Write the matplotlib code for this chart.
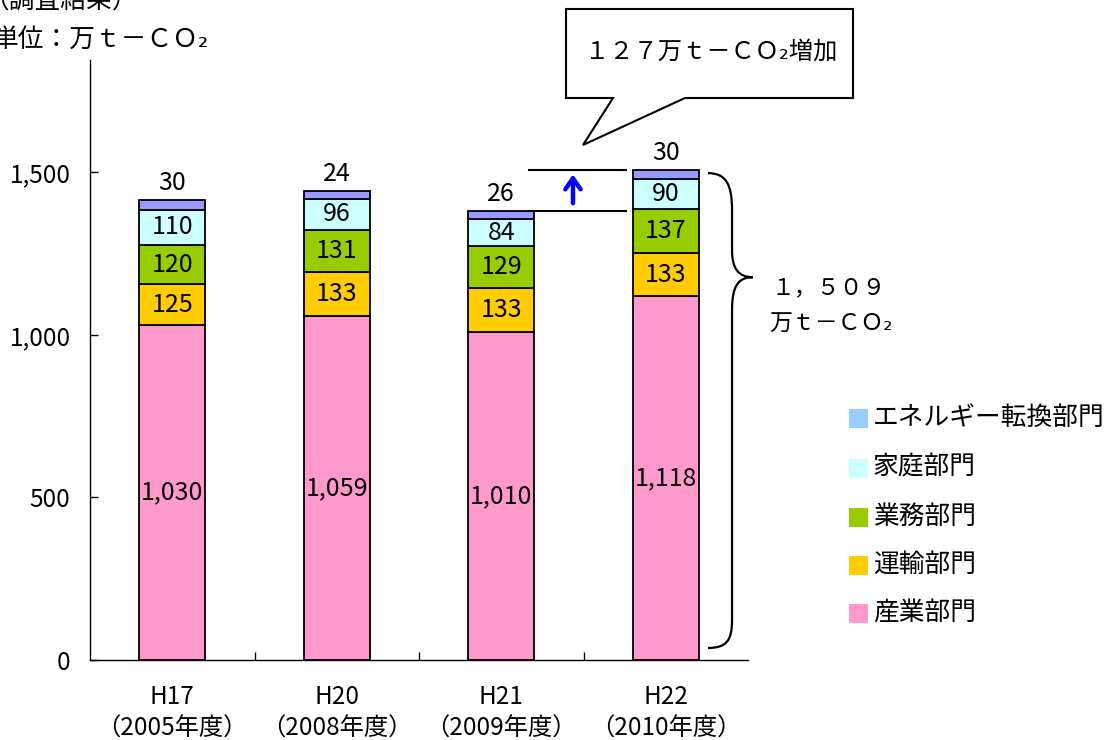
import matplotlib
matplotlib.use("Agg")
import matplotlib.pyplot as plt
from matplotlib.patches import Rectangle, Polygon, PathPatch
from matplotlib.path import Path
import numpy as np

plt.rcParams['font.family'] = ['Noto Sans CJK JP', 'DejaVu Sans']

# Survey results, unit: 10,000 t-CO2
years = ["H17", "H20", "H21", "H22"]
fiscal_years = ["（2005年度）", "（2008年度）", "（2009年度）", "（2010年度）"]
sectors = ["産業部門", "運輸部門", "業務部門", "家庭部門", "エネルギー転換部門"]
industry = [1030, 1059, 1010, 1118]
transport = [125, 133, 133, 133]
commercial = [120, 131, 129, 137]
household = [110, 96, 84, 90]
energy = [30, 24, 26, 30]
total_label = "１，５０９"
increase_label = "１２７万ｔ－ＣＯ₂増加"

bar_colors = ["#FF99CC", "#FFCC00", "#99CC00", "#CCFFFF", "#9999FF"]
legend_colors = ["#FF99CC", "#FFCC00", "#99CC00", "#CCFFFF", "#99CCFF"]

W, H = 1116, 740
fig = plt.figure(figsize=(W / 100, H / 100), dpi=100)


def px(x, y):
    return (x / W, 1 - y / H)


ax = fig.add_axes([90 / W, 80 / H, 658 / W, 600 / H])

series = [industry, transport, commercial, household, energy]
x = np.arange(len(years))
bottom = np.zeros(len(years))
for i, (vals, col) in enumerate(zip(series, bar_colors)):
    vals = np.array(vals, dtype=float)
    ax.bar(x, vals, width=0.4, bottom=bottom, color=col, edgecolor="black",
           linewidth=1.3, zorder=2)
    for xi, b, v in zip(x, bottom, vals):
        if i == len(series) - 1:
            ax.text(xi, b + v + 11, f"{int(v):,}", ha="center", va="bottom",
                    fontsize=18)
        else:
            ax.text(xi, b + v / 2, f"{int(v):,}", ha="center", va="center",
                    fontsize=18)
    bottom = bottom + vals
totals = bottom

ax.set_xlim(-0.5, 3.5)
ax.set_ylim(0, 1845)
ax.set_yticks([0, 500, 1000, 1500])
ax.set_yticklabels(["0", "500", "1,000", "1,500"], fontsize=17.5)
ax.tick_params(axis="y", direction="in", length=6, width=1, pad=14)
ax.set_xticks(x)
ax.set_xticklabels([f"{y}\n{f}" for y, f in zip(years, fiscal_years)],
                   fontsize=17.5, linespacing=1.3)
ax.tick_params(axis="x", length=0, pad=17)
ax.set_xticks(np.arange(0.5, 3.5, 1), minor=True)
ax.tick_params(axis="x", which="minor", direction="in", length=6, width=1)
for s in ["top", "right"]:
    ax.spines[s].set_visible(False)
for s in ["left", "bottom"]:
    ax.spines[s].set_linewidth(1.0)

# Lines marking the H21 and H22 totals with the increase arrow
ax.plot([2.169, 2.758], [totals[2], totals[2]], color="black", lw=1.5,
        clip_on=False, zorder=3)
ax.plot([2.169, 2.758], [totals[3], totals[3]], color="black", lw=1.5,
        clip_on=False, zorder=3)
ax.annotate("", xy=(2.436, totals[3] - 6), xytext=(2.436, totals[2] + 14),
            arrowprops=dict(arrowstyle="->,head_length=0.8,head_width=0.55",
                            color="#0000FF", lw=3.2), zorder=4)

# Brace spanning the H22 bar
bx0, bx1, bx2 = 3.257, 3.403, 3.530
verts = [(bx0, 1497),
         (3.37, 1497), (bx1, 1460), (bx1, 1383),
         (bx1, 1260),
         (bx1, 1205), (3.44, 1177), (bx2, 1177),
         (3.44, 1177), (bx1, 1150), (bx1, 1076),
         (bx1, 123),
         (bx1, 60), (3.37, 37), (bx0, 37)]
codes = [Path.MOVETO,
         Path.CURVE4, Path.CURVE4, Path.CURVE4,
         Path.LINETO,
         Path.CURVE4, Path.CURVE4, Path.CURVE4,
         Path.CURVE4, Path.CURVE4, Path.CURVE4,
         Path.LINETO,
         Path.CURVE4, Path.CURVE4, Path.CURVE4]
ax.add_patch(PathPatch(Path(verts, codes), facecolor="none", edgecolor="black",
                       lw=1.6, clip_on=False))

fig.text(*px(771, 288), total_label, fontsize=16.5, ha="left", va="center")
fig.text(*px(769, 324), "万ｔ－ＣＯ₂", fontsize=16.5, ha="left", va="center")

# Speech bubble
bubble = [(566, 9), (853, 9), (853, 98), (685, 98), (583, 145), (613, 98),
          (566, 98)]
fig.patches.append(Polygon([px(a, b) for a, b in bubble], closed=True,
                           facecolor="white", edgecolor="black", lw=1.5,
                           transform=fig.transFigure, figure=fig))
fig.text(*px(711, 52), increase_label, fontsize=17.5, ha="center",
         va="center")

# Header texts
fig.text(*px(-17, 2), "（調査結果）", fontsize=18.5, ha="left", va="center")
fig.text(*px(-7, 41), "単位：万ｔ－ＣＯ₂", fontsize=18.5, ha="left",
         va="center")

# Legend
rows_y = [418, 468, 517, 565, 613]
for label, col, yy in zip(sectors[::-1], legend_colors[::-1], rows_y):
    x0, y0 = px(849, yy + 9.5)
    fig.patches.append(Rectangle((x0, y0), 19 / W, 19 / H, facecolor=col,
                                 edgecolor="none", transform=fig.transFigure,
                                 figure=fig))
    fig.text(*px(873, yy), label, fontsize=18.5, ha="left", va="center")

fig.savefig("out.png", dpi=100)
